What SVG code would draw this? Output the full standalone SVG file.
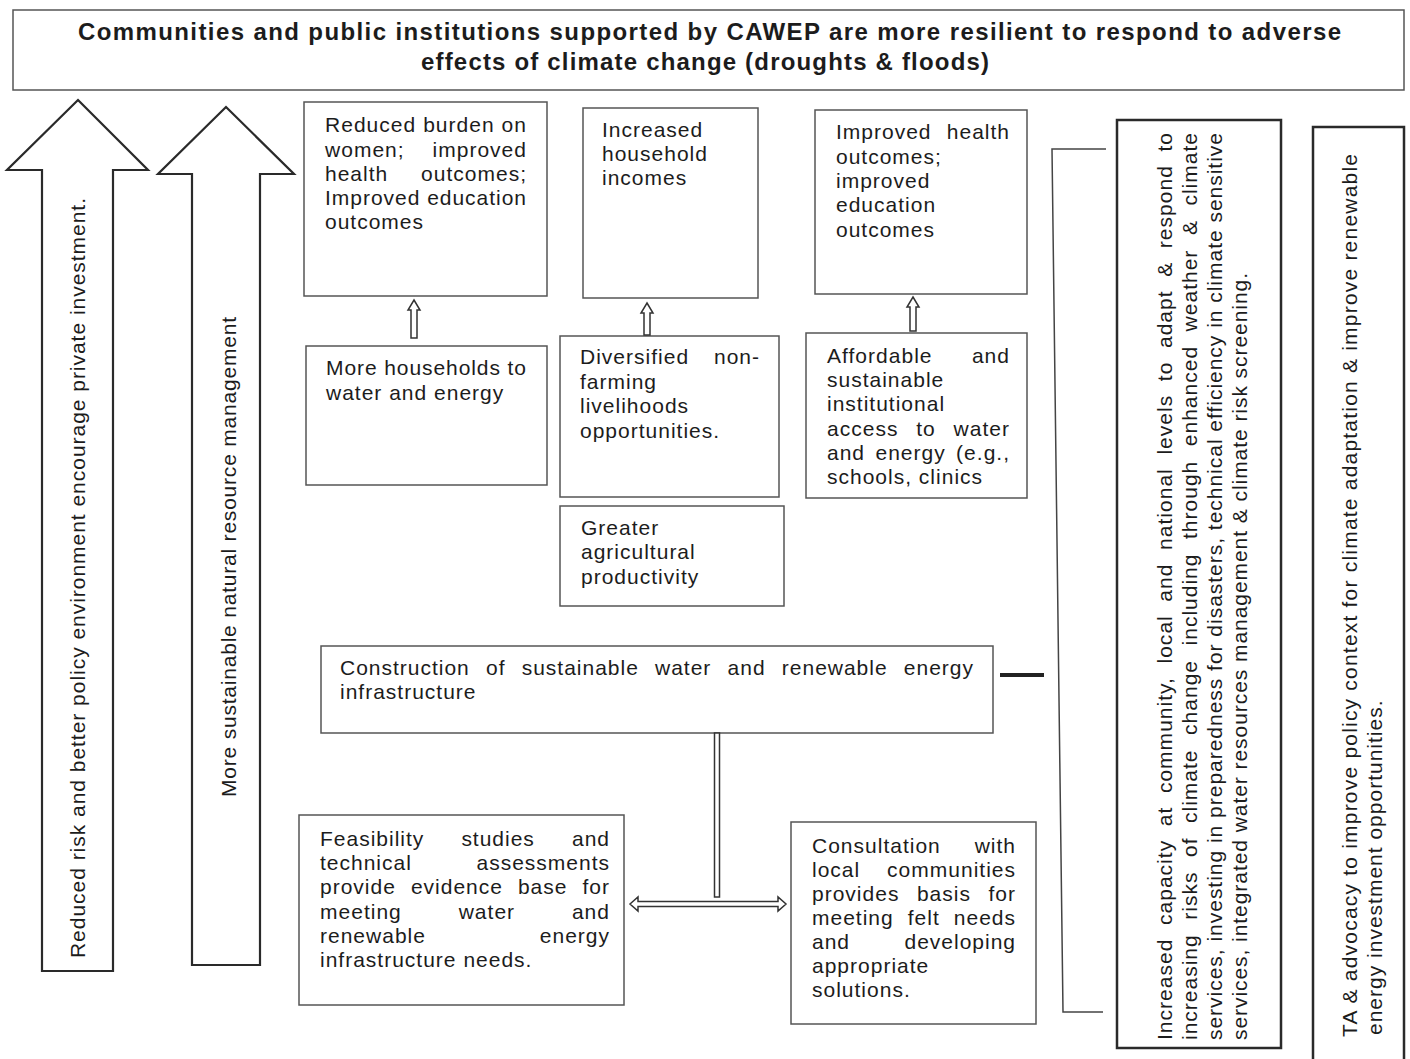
<svg xmlns="http://www.w3.org/2000/svg" width="1410" height="1059" viewBox="0 0 1410 1059">
<style>
.t{font-family:"Liberation Sans",Arial,sans-serif;font-size:21px;letter-spacing:1px;fill:#1c1c1c}
.ttl{font-family:"Liberation Sans",Arial,sans-serif;font-size:24px;font-weight:bold;fill:#1c1c1c}
.box{fill:#fff;stroke:#555;stroke-width:1.5}
.rbox{fill:#fff;stroke:#2a2a2a;stroke-width:2.5}
.big{fill:#fff;stroke:#2a2a2a;stroke-width:2.2;stroke-linejoin:miter}
.sm{fill:#fff;stroke:#333;stroke-width:1.5}
.ln{fill:none;stroke:#444;stroke-width:1.5}
</style>
<rect width="1410" height="1059" fill="#fff"/>

<g id="goal">
<rect class="box" x="13" y="10" width="1391" height="80"/>
<text class="ttl" x="78" y="40" textLength="1263" lengthAdjust="spacing">Communities and public institutions supported by CAWEP are more resilient to respond to adverse</text>
<text class="ttl" x="421" y="70" textLength="568" lengthAdjust="spacing">effects of climate change (droughts &amp; floods)</text>
</g>

<g id="arrow-policy">
<polygon class="big" points="78,100 148,170 113,170 113,971 42,971 42,170 7,170"/>
<text class="t" transform="translate(85,958) rotate(-90)" textLength="761" lengthAdjust="spacing">Reduced risk and better policy environment encourage private investment.</text>
</g>

<g id="arrow-nrm">
<polygon class="big" points="226,107 294,174 260,174 260,965 192,965 192,174 158,174"/>
<text class="t" transform="translate(236,797) rotate(-90)" textLength="481" lengthAdjust="spacing">More sustainable natural resource management</text>
</g>

<g id="box-burden">
<rect class="box" x="304" y="102" width="243" height="194"/>
<text class="t" x="325" y="132" textLength="202" lengthAdjust="spacing">Reduced burden on</text>
<text class="t" x="325" y="157" word-spacing="21" textLength="202" lengthAdjust="spacing">women; improved</text>
<text class="t" x="325" y="181" word-spacing="26" textLength="202" lengthAdjust="spacing">health outcomes;</text>
<text class="t" x="325" y="205" textLength="202" lengthAdjust="spacing">Improved education</text>
<text class="t" x="325" y="229">outcomes</text>
</g>

<g id="box-income">
<rect class="box" x="583" y="108" width="175" height="190"/>
<text class="t" x="602" y="137">Increased</text>
<text class="t" x="602" y="161">household</text>
<text class="t" x="602" y="185">incomes</text>
</g>

<g id="box-health">
<rect class="box" x="815" y="110" width="212" height="184"/>
<text class="t" x="836" y="139" word-spacing="8.5" textLength="174" lengthAdjust="spacing">Improved health</text>
<text class="t" x="836" y="164">outcomes;</text>
<text class="t" x="836" y="188">improved</text>
<text class="t" x="836" y="212">education</text>
<text class="t" x="836" y="237">outcomes</text>
</g>

<g id="box-households">
<rect class="box" x="306" y="346" width="241" height="139"/>
<text class="t" x="326" y="375" textLength="201" lengthAdjust="spacing">More households to</text>
<text class="t" x="326" y="400">water and energy</text>
</g>

<g id="box-livelihoods">
<rect class="box" x="560" y="336" width="219" height="161"/>
<text class="t" x="580" y="364" word-spacing="18" textLength="180" lengthAdjust="spacing">Diversified non-</text>
<text class="t" x="580" y="389">farming</text>
<text class="t" x="580" y="413">livelihoods</text>
<text class="t" x="580" y="438">opportunities.</text>
</g>

<g id="box-access">
<rect class="box" x="806" y="333" width="221" height="165"/>
<text class="t" x="827" y="363" word-spacing="32.5" textLength="183" lengthAdjust="spacing">Affordable and</text>
<text class="t" x="827" y="387">sustainable</text>
<text class="t" x="827" y="411">institutional</text>
<text class="t" x="827" y="436" word-spacing="11" textLength="183" lengthAdjust="spacing">access to water</text>
<text class="t" x="827" y="460" word-spacing="3.6" textLength="183" lengthAdjust="spacing">and energy (e.g.,</text>
<text class="t" x="827" y="484">schools, clinics</text>
</g>

<g id="box-agri">
<rect class="box" x="560" y="506" width="224" height="100"/>
<text class="t" x="581" y="535">Greater</text>
<text class="t" x="581" y="559">agricultural</text>
<text class="t" x="581" y="584">productivity</text>
</g>

<g id="box-construction">
<rect class="box" x="321" y="646" width="672" height="87"/>
<text class="t" x="340" y="675" word-spacing="9.4" textLength="634" lengthAdjust="spacing">Construction of sustainable water and renewable energy</text>
<text class="t" x="340" y="699">infrastructure</text>
</g>

<g id="box-feasibility">
<rect class="box" x="299" y="815" width="325" height="190"/>
<text class="t" x="320" y="846" word-spacing="30.3" textLength="290" lengthAdjust="spacing">Feasibility studies and</text>
<text class="t" x="320" y="870" word-spacing="57.8" textLength="290" lengthAdjust="spacing">technical assessments</text>
<text class="t" x="320" y="894" word-spacing="8.2" textLength="290" lengthAdjust="spacing">provide evidence base for</text>
<text class="t" x="320" y="919" word-spacing="50" textLength="290" lengthAdjust="spacing">meeting water and</text>
<text class="t" x="320" y="943" word-spacing="107" textLength="290" lengthAdjust="spacing">renewable energy</text>
<text class="t" x="320" y="967">infrastructure needs.</text>
</g>

<g id="box-consultation">
<rect class="box" x="791" y="822" width="245" height="202"/>
<text class="t" x="812" y="853" word-spacing="27" textLength="204" lengthAdjust="spacing">Consultation with</text>
<text class="t" x="812" y="877" word-spacing="20" textLength="204" lengthAdjust="spacing">local communities</text>
<text class="t" x="812" y="901" word-spacing="10.7" textLength="204" lengthAdjust="spacing">provides basis for</text>
<text class="t" x="812" y="925" word-spacing="7.2" textLength="204" lengthAdjust="spacing">meeting felt needs</text>
<text class="t" x="812" y="949" word-spacing="47.6" textLength="204" lengthAdjust="spacing">and developing</text>
<text class="t" x="812" y="973">appropriate</text>
<text class="t" x="812" y="997">solutions.</text>
</g>

<g id="box-capacity">
<rect class="rbox" x="1117" y="120" width="164" height="928"/>
<g transform="translate(1172,1040) rotate(-90)">
<text class="t" x="0" y="0" word-spacing="6.75" textLength="908" lengthAdjust="spacing">Increased capacity at community, local and national levels to adapt &amp; respond to</text>
<text class="t" x="0" y="25" word-spacing="7.7" textLength="908" lengthAdjust="spacing">increasing risks of climate change including through enhanced weather &amp; climate</text>
<text class="t" x="0" y="50" textLength="908" lengthAdjust="spacing">services, investing in preparedness for disasters, technical efficiency in climate sensitive</text>
<text class="t" x="0" y="75" textLength="768" lengthAdjust="spacing">services, integrated water resources management &amp; climate risk screening.</text>
</g>
</g>

<g id="box-advocacy">
<rect class="rbox" x="1313" y="127" width="91" height="940"/>
<g transform="translate(1357,1037) rotate(-90)">
<text class="t" x="0" y="0" textLength="884" lengthAdjust="spacing">TA &amp; advocacy to improve policy context for climate adaptation &amp; improve renewable</text>
<text class="t" x="2" y="25">energy investment opportunities.</text>
</g>
</g>

<g id="connectors">
<path class="sm" d="M414,300 L420,310 L417,310 L417,338 L411,338 L411,310 L408,310 Z"/>
<path class="sm" d="M647,303 L653,313 L650,313 L650,335 L644,335 L644,313 L641,313 Z"/>
<path class="sm" d="M913,297 L919,307 L916,307 L916,331 L910,331 L910,307 L907,307 Z"/>
<rect class="sm" x="714.5" y="733" width="5" height="164"/>
<path class="sm" d="M630,904 L638,897 L638,901.5 L778,901.5 L778,897 L786,904 L778,911 L778,906.5 L638,906.5 L638,911 Z"/>
<path class="ln" d="M1106,149 L1052,149 L1063,1012 L1103,1012"/>
<path d="M1000,675 L1044,675" stroke="#222" stroke-width="4" fill="none"/>
</g>
</svg>
